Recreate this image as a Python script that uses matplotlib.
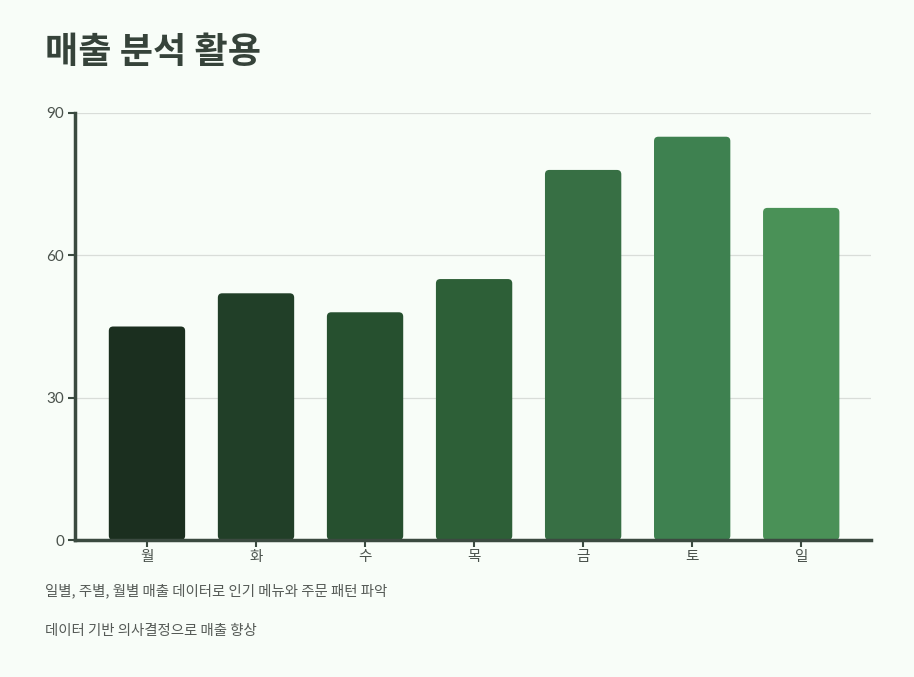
import matplotlib
matplotlib.use("Agg")
import matplotlib.pyplot as plt
from matplotlib.patches import FancyBboxPatch

plt.rcParams['font.family'] = ['Noto Sans CJK KR', 'DejaVu Sans']

days = ['월', '화', '수', '목', '금', '토', '일']
sales = [45, 52, 48, 55, 78, 85, 70]
colors = ['#1b2f1f', '#213f28', '#26502f', '#2d5f37', '#376f44', '#3e8150', '#4a9157']
yticks = [0, 30, 60, 90]
title = '매출 분석 활용'
notes = ['일별, 주별, 월별 매출 데이터로 인기 메뉴와 주문 패턴 파악',
         '데이터 기반 의사결정으로 매출 향상']

bg = '#f8fdf8'
axis_col = '#3b4a40'

fig = plt.figure(figsize=(9.14, 6.77), dpi=100, facecolor=bg)
ax = fig.add_axes([75 / 914, 1 - 540 / 677, 796 / 914, 427 / 677])
ax.set_facecolor(bg)

x = list(range(len(days)))
bars = ax.bar(x, sales, width=0.7, color=colors, zorder=3)
# swap plain rectangles for ones with rounded corners
for b, c in zip(bars, colors):
    b.set_visible(False)
    p = FancyBboxPatch((b.get_x(), 0), b.get_width(), b.get_height(),
                       boxstyle="round,pad=0,rounding_size=0.04",
                       mutation_aspect=90 / 427 * 796 / 7.3,
                       facecolor=c, edgecolor='none', zorder=3)
    ax.add_patch(p)

ax.set_xlim(-0.66, 6.64)
ax.set_ylim(0, 90)
ax.set_xticks(x)
ax.set_xticklabels(days)
ax.set_yticks(yticks)
ax.yaxis.grid(True, color='#d9ddd9', linewidth=0.9, zorder=0)
ax.set_axisbelow(True)

for s in ['top', 'right']:
    ax.spines[s].set_visible(False)
for s in ['left', 'bottom']:
    ax.spines[s].set_color(axis_col)
    ax.spines[s].set_linewidth(2.5)
    ax.spines[s].set_zorder(4)
ax.tick_params(axis='both', colors=axis_col, length=5, width=1.5,
               labelsize=10.5, labelcolor='#4a524c')
ax.tick_params(axis='y', pad=3)
ax.tick_params(axis='x', pad=2)
for lab in ax.get_yticklabels():
    lab.set_family(['Lato', 'Noto Sans CJK KR'])
    lab.set_fontsize(11)

fig.text(45 / 914, 1 - 52 / 677, title, fontsize=26, fontweight='bold',
         color='#36433a', va='center', ha='left')
fig.text(45 / 914, 1 - 591 / 677, notes[0], fontsize=10.4, color='#555a56',
         va='center', ha='left')
fig.text(45 / 914, 1 - 631 / 677, notes[1], fontsize=10.4, color='#555a56',
         va='center', ha='left')

fig.savefig('out.png', dpi=100, facecolor=bg)
